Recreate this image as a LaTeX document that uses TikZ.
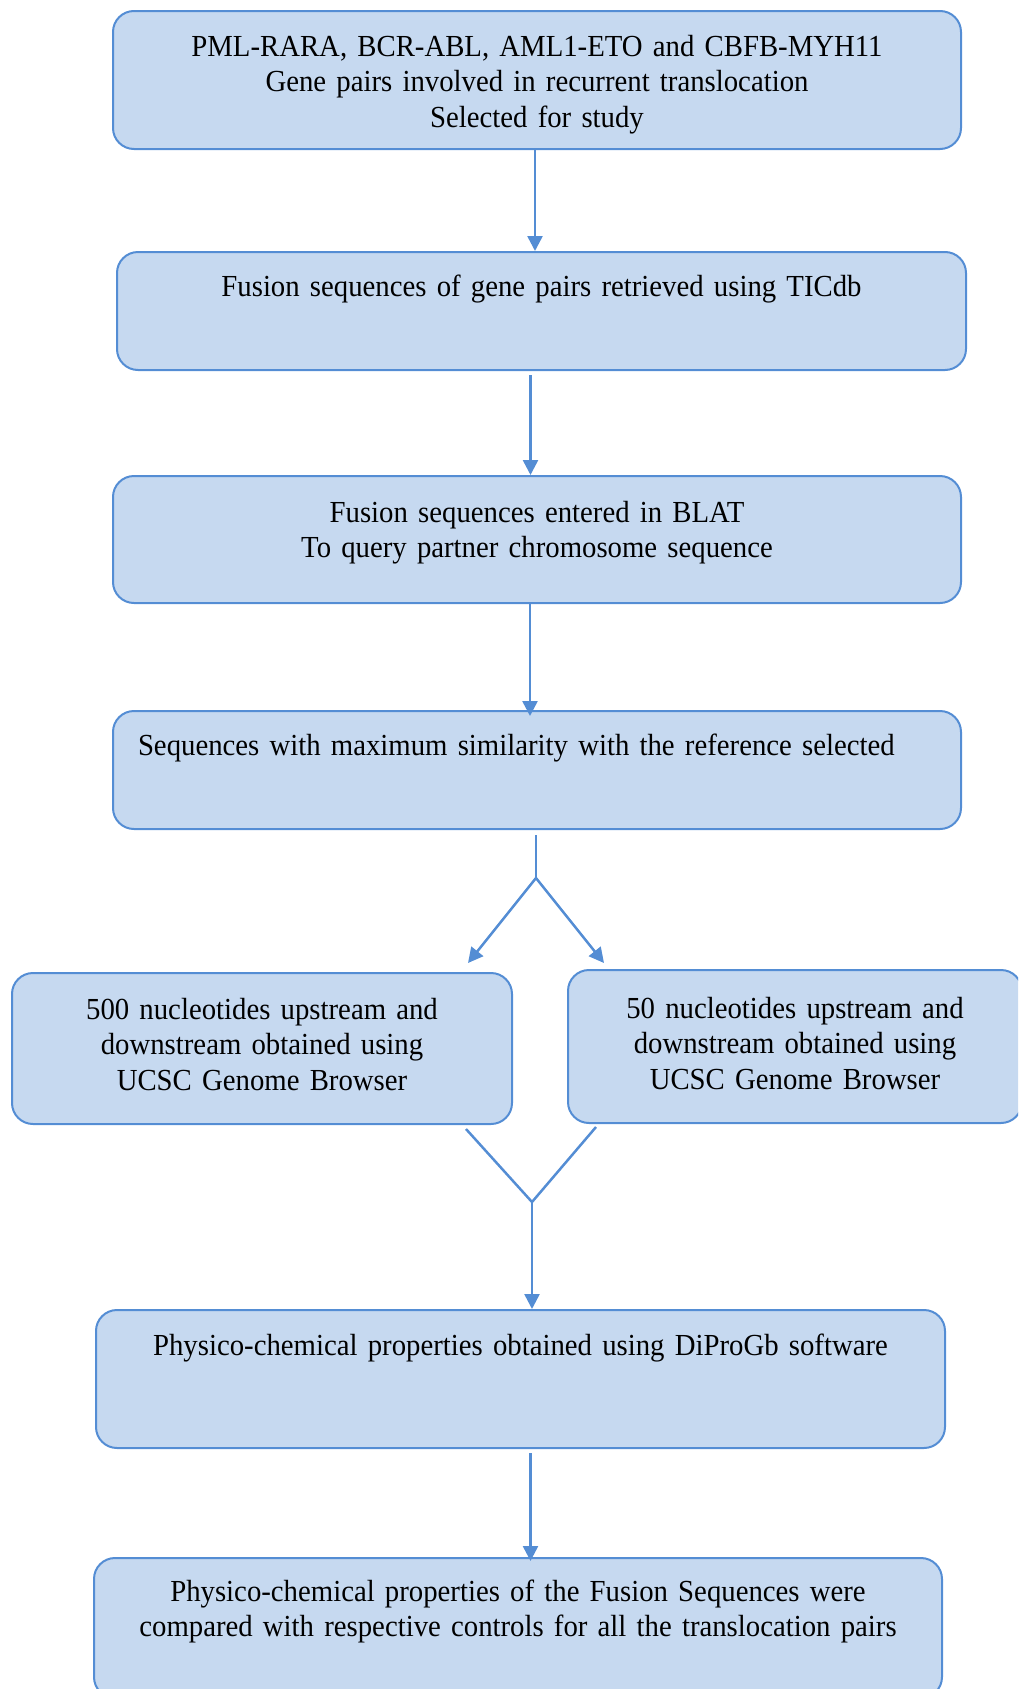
\documentclass[tikz,border=0pt]{standalone}
\usepackage{fontspec}
\setmainfont{Liberation Serif}
\newfontfamily\boxfont{Liberation Serif}[FakeStretch=0.94]
\usetikzlibrary{arrows.meta}
\definecolor{boxfill}{RGB}{198,217,240}
\definecolor{boxline}{RGB}{84,141,212}
\tikzset{
  stage/.style={draw=boxline, fill=boxfill, line width=2pt, rounded corners=21pt,
    inner sep=0pt, anchor=north west, align=center,
    font=\boxfont\fontsize{30.6}{35.5}\selectfont},
  flow/.style={draw=boxline, line width=2.5pt, -{Triangle[length=15pt,width=15pt]}},
  link/.style={draw=boxline, line width=2.5pt}
}
\begin{document}
\begin{tikzpicture}[x=1pt,y=-1pt]
\clip (0,0) rectangle (1018,1689);
\node[stage, text width=848pt, text height=45pt, text depth=93pt] (pairs) at (112,10)
  {PML-RARA, BCR-ABL, AML1-ETO and CBFB-MYH11\\Gene pairs involved in recurrent translocation\\Selected for study};
\node[stage, text width=849pt, text height=44pt, text depth=74pt] (tic) at (116,251)
  {Fusion sequences of gene pairs retrieved using TICdb};
\node[stage, text width=848pt, text height=46pt, text depth=81pt] (blat) at (112,475)
  {Fusion sequences entered in BLAT\\To query partner chromosome sequence};
\node[stage, align=left, inner xsep=25pt, text width=798pt, text height=44pt, text depth=74pt] (best) at (112,710)
  {Sequences with maximum similarity with the reference selected};
\node[stage, text width=500pt, text height=46pt, text depth=105pt] (up500) at (11,972)
  {500 nucleotides upstream and\\downstream obtained using\\UCSC Genome Browser};
\node[stage, text width=454pt, text height=48pt, text depth=105pt] (up50) at (567,969)
  {50 nucleotides upstream and\\downstream obtained using\\UCSC Genome Browser};
\node[stage, text width=849pt, text height=45pt, text depth=93pt] (dipro) at (95,1309)
  {Physico-chemical properties obtained using DiProGb software};
\node[stage, text width=848pt, text height=43pt, text depth=97pt] (compare) at (93,1557)
  {Physico-chemical properties of the Fusion Sequences were\\compared with respective controls for all the translocation pairs};
% split and join points
\coordinate (split) at (536,878);
\coordinate (tipL) at (468,963);
\coordinate (tipR) at (604,963);
\coordinate (fromL) at (466,1129);
\coordinate (fromR) at (596,1127);
\coordinate (join) at (532,1202);
\draw[flow] ([xshift=-2pt]pairs.south) -- ([xshift=-2pt]pairs.south |- tic.north);
\draw[flow] ([xshift=-11pt,yshift=-4pt]tic.south) -- ([xshift=-11pt]tic.south |- blat.north);
\draw[flow] ([xshift=-7pt]blat.south) -- ([xshift=-7pt,yshift=-6pt]blat.south |- best.north);
\draw[link] ([yshift=-5pt]split |- best.south) -- (split);
\draw[flow] (split) -- (tipL);
\draw[flow] (split) -- (tipR);
\draw[link] (fromL) -- (join);
\draw[link] (fromR) -- (join);
\draw[flow] (join) -- (join |- dipro.north);
\draw[flow] ([xshift=10pt,yshift=-4pt]dipro.south) -- ([xshift=10pt,yshift=-4pt]dipro.south |- compare.north);
\end{tikzpicture}
\end{document}
